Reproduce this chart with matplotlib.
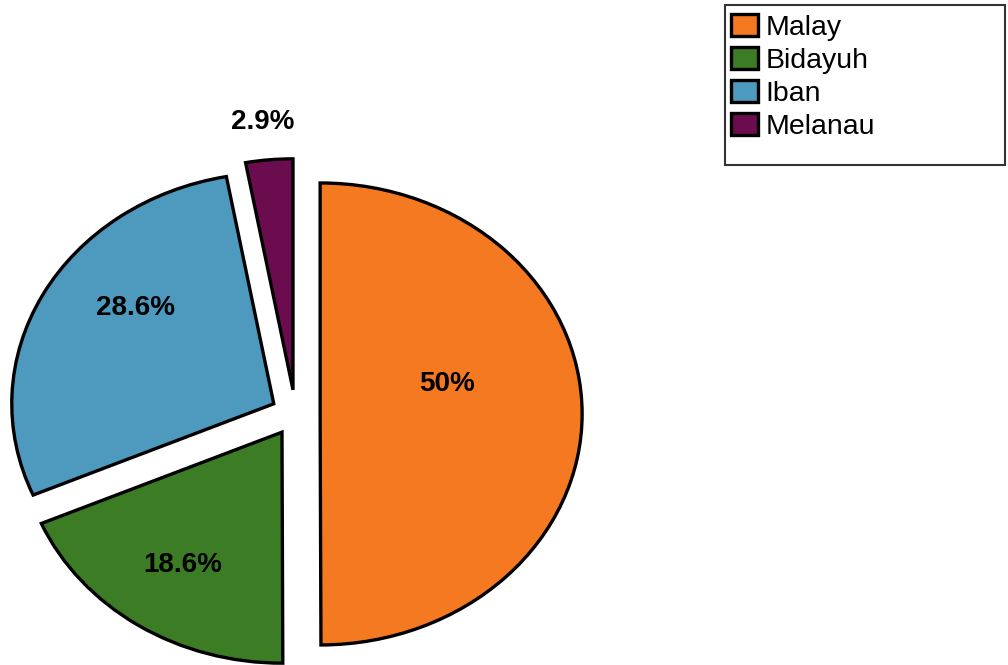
import matplotlib.pyplot as plt
from matplotlib.patches import Rectangle
import numpy as np

# ethnic groups and their share (%)
groups = ["Malay", "Bidayuh", "Iban", "Melanau"]
shares = [50, 18.6, 28.6, 2.9]
pct_labels = ["50%", "18.6%", "28.6%", "2.9%"]

colors = ["#F47920", "#3C7C24", "#4E99BE", "#6A0C4E"]
explode = [0.094, 0.094, 0.094, 0.105]
# where each % label sits: distance from slice tip, angle shift (deg)
label_dist = [0.5, 0.69, 0.67, 1.165]
label_shift = [15, 0, -10, 0.5]

plt.rcParams["font.family"] = ["Liberation Sans", "DejaVu Sans"]

fig = plt.figure(figsize=(10.08, 6.65), dpi=100)
ax = fig.add_axes([0, 0, 1, 1])

wedges, _ = ax.pie(shares, colors=colors, explode=explode, startangle=90,
                   counterclock=False, radius=1,
                   wedgeprops=dict(edgecolor="black", linewidth=2.4))

for w, txt, d, s in zip(wedges, pct_labels, label_dist, label_shift):
    mid = np.deg2rad((w.theta1 + w.theta2) / 2 + s)
    cx, cy = w.center
    ax.text(cx + d * np.cos(mid), cy + d * np.sin(mid), txt,
            ha="center", va="center", fontsize=20, fontweight="bold")

# pie is drawn a bit wider than tall
ax.set_aspect("auto")
W, H = 1008, 665
px0, py0, rx, ry = 295.5, 414, 262, 231
ax.set_xlim(-px0 / rx, (W - px0) / rx)
ax.set_ylim(-(H - py0) / ry, py0 / ry)
ax.axis("off")

leg = fig.legend(wedges, groups, loc="upper left",
                 bbox_to_anchor=(714 / W, 1 + 3 / H), frameon=False,
                 fontsize=20.5, handlelength=0.95, handleheight=0.8,
                 handletextpad=0.25, labelspacing=0.22, borderpad=0.1)
for h in leg.legend_handles:
    h.set_linewidth(2.4)

fig.patches.append(Rectangle((725 / W, 1 - 165 / H), 280 / W, 160 / H,
                             transform=fig.transFigure, fill=False,
                             edgecolor="#333333", linewidth=1.5))

fig.savefig("out.png", dpi=100)
